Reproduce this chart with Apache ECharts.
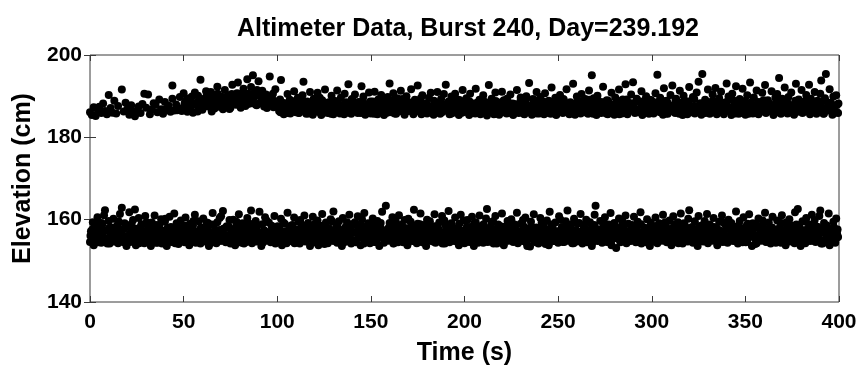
<!DOCTYPE html>
<html><head><meta charset="utf-8">
<script src="https://cdn.jsdelivr.net/npm/echarts@6/dist/echarts.min.js"></script>
<style>html,body{margin:0;padding:0;background:#fff}#c{width:862px;height:371px}</style>
</head><body><div id="c"></div>
<script>
// Flat lists of [time (s), elevation (cm)] pairs
const upper0to100 = [0,186.1,1,185.4,2,187.3,3,185.2,4,186.8,5,187.4,6,185.9,7,188.2,8,186.4,9,185.6,10,190.3,11,187.1,12,186.0,13,188.9,14,185.8,15,187.6,17,191.6,18,186.3,19,188.4,20,186.9,21,185.5,22,187.8,23,186.4,24,185.1,25,186.2,26,187.5,27,185.9,28,188.1,29,190.6,30,187.2,31,190.4,32,185.6,33,186.7,34,188.3,35,187.9,36,186.1,37,189.2,38,186.8,39,185.7,40,188.6,41,186.9,42,187.7,43,186.2,44,192.6,44,189.4,45,186.5,46,188.0,46.5,186.6,47,187.1,48,189.8,49,186.4,50,190.7,50.5,188.3,51,187.3,52,188.8,52,186.2,53,189.5,54,187.6,54.5,189.9,55,186.0,56,190.9,57,188.4,57.5,186.3,58,187.0,59,194.0,59,189.2,60,186.7,60.5,189.3,61,188.9,62,191.2,62.5,187.8,63,187.5,64,189.7,64.5,191.0,65,186.3,66,190.4,66.5,187.0,67,188.1,68,192.3,68.5,189.6,69,187.4,70,189.9,70.5,187.7,71,186.8,72,191.5,72.5,188.4,73,188.6,74,190.2,74.5,186.9,75,187.2,76,192.8,76.5,189.4,77,189.1,78,187.9,78.5,190.7,79,193.3,80,190.6,80.5,187.2,81,188.3,82,191.8,82.5,189.0,83,187.6,84,194.1,84.5,188.1,85,189.5,86,192.2,86.5,190.1,87,195.1,87,188.7,88,190.9,88.5,188.0,89,187.8,90,193.6,90.5,190.8,91,189.9,92,191.3,92.5,188.9,93,187.5,94,190.4,94.5,187.1,95,188.6,96,194.8,96.5,189.9,97,189.7,98,187.3,98.5,188.8,99,191.7,100,188.5];
const upperExtra50to100 = [50.2,187.4,51.7,189.1,53.2,186.8,54.7,188.2,56.2,187.9,57.7,190.1,59.2,187.2,60.7,188.4,62.2,190.0,63.7,188.6,65.2,189.3,66.7,187.9,68.2,190.6,69.7,188.8,71.2,189.6,72.7,187.5,74.2,188.9,75.7,190.5,77.2,188.2,78.7,189.3,80.2,188.9,81.7,190.2,83.2,189.1,84.7,190.6,86.2,188.3,87.7,189.8,89.2,191.5,90.2,188.2,91.7,190.3,93.2,189.2,94.7,188.7,96.2,187.8,97.7,190.6,99.2,188.1];
const upper100to200 = [101,186.4,101.5,189.2,102,193.9,103,187.0,103.5,185.6,104,188.3,105,186.9,105.5,190.5,106,187.4,107,185.8,107.5,188.9,108,186.5,109,191.2,109.5,187.7,110,186.1,111,189.6,111.5,185.9,112,187.9,113,186.6,113.5,190.2,114,193.5,115,187.1,115.5,185.7,116,188.7,117,186.3,117.5,191.0,118,187.6,119,185.5,119.5,189.4,120,186.8,121,188.1,121.5,190.8,122,186.2,123,187.5,123.5,185.4,124,189.0,125,186.7,125.5,191.6,126,187.8,127,185.9,127.5,188.5,128,186.4,129,190.1,129.5,187.2,130,185.6,131,188.8,131.5,186.9,132,191.4,133,187.3,133.5,185.8,134,189.7,135,186.5,135.5,187.9,136,190.6,137,186.0,137.5,188.2,138,192.9,139,187.0,139.5,185.7,140,189.3,141,186.6,141.5,190.4,142,187.7,143,185.9,143.5,188.6,144,186.2,145,192.4,145.5,187.4,146,189.9,147,185.5,147.5,188.0,148,186.8,149,190.9,149.5,187.1,150,185.8,151,188.7,151.5,186.3,152,191.1,153,187.6,153.5,185.6,154,189.2,155,186.9,155.5,190.3,156,187.2,157,185.4,157.5,188.4,158,186.5,159,189.8,159.5,187.8,160,193.1,161,186.1,161.5,188.9,162,190.7,163,187.3,163.5,185.7,164,189.5,165,186.7,165.5,187.9,166,191.3,167,186.2,167.5,188.3,168,185.5,169,190.0,169.5,187.0,170,188.6,171,186.4,171.5,191.7,172,187.5,173,185.9,173.5,189.1,174,186.8,175,192.6,175.5,187.7,176,188.8,177,185.6,177.5,190.2,178,186.6,179,188.0,179.5,187.1,180,185.8,181,189.6,181.5,186.3,182,190.8,183,187.4,183.5,185.5,184,188.5,185,186.9,185.5,191.0,186,187.6,187,185.7,187.5,189.3,188,186.1,189,190.5,189.5,187.9,190,192.8,191,186.4,191.5,188.7,192,185.6,193,189.9,193.5,187.2,194,186.0,195,190.6,195.5,188.1,196,186.7,197,185.4,197.5,189.0,198,187.3,199,191.5,199.5,186.5,200,188.4];
const upperExtra100to200 = [100.7,187.3,101.7,186.1,102.7,188.4,103.7,186.8,104.7,187.7,105.7,185.9,106.7,189.1,107.7,187.0,108.7,186.4,109.7,188.2,110.7,187.5,111.7,186.0,112.7,189.4,113.7,187.2,114.7,186.6,115.7,188.6,116.7,185.8,117.7,187.8,118.7,186.9,119.7,188.0,120.7,187.1,121.7,186.3,122.7,189.6,123.7,187.4,124.7,186.0,125.7,188.3,126.7,186.7,127.7,187.6,128.7,185.7,129.7,188.8,130.7,187.3,131.7,186.5,132.7,188.1,133.7,186.9,134.7,187.8,135.7,185.6,136.7,188.5,137.7,187.1,138.7,186.2,139.7,189.2,140.7,187.6,141.7,186.4,142.7,188.4,143.7,187.0,144.7,185.9,145.7,188.9,146.7,186.8,147.7,187.5,148.7,186.1,149.7,188.7,150.7,187.2,151.7,185.7,152.7,188.0,153.7,186.6,154.7,187.9,155.7,186.3,156.7,189.0,157.7,187.4,158.7,186.0,159.7,188.5,160.7,186.9,161.7,187.7,162.7,185.8,163.7,188.3,164.7,187.1,165.7,186.5,166.7,189.3,167.7,187.6,168.7,186.2,169.7,188.1,170.7,186.8,171.7,187.3,172.7,185.6,173.7,188.6,174.7,187.0,175.7,186.4,176.7,189.5,177.7,187.8,178.7,186.1,179.7,188.2,180.7,186.7,181.7,187.4,182.7,185.9,183.7,188.9,184.7,187.2,185.7,186.3,186.7,188.4,187.7,187.0,188.7,186.6,189.7,188.0,190.7,186.9,191.7,187.5,192.7,185.7,193.7,188.7,194.7,187.3,195.7,186.2,196.7,189.1,197.7,187.7,198.7,186.0,199.7,188.3];
const upper200to300 = [200.5,186.2,201,189.5,202,187.1,202.5,185.4,203,190.6,204,186.7,204.5,188.2,205,185.9,206,191.8,206.5,187.4,207,186.0,208,189.1,208.5,185.6,209,187.8,210,190.2,210.5,186.5,211,188.6,212,185.3,212.5,187.0,213,192.7,214,186.3,214.5,189.4,215,187.5,216,185.7,216.5,190.9,217,186.9,218,188.3,218.5,185.5,219,187.6,220,191.1,220.5,186.1,221,189.0,222,187.2,222.5,185.8,223,188.8,224,186.4,224.5,190.4,225,187.7,226,185.4,226.5,188.1,227,186.6,228,191.5,228.5,187.3,229,185.9,230,189.7,230.5,186.8,231,188.4,232,185.6,232.5,187.9,233,190.0,234,186.2,234.5,193.2,235,187.4,236,185.5,236.5,189.3,237,186.7,238,188.0,238.5,191.0,239,187.1,240,185.8,240.5,189.8,241,186.4,242,188.7,242.5,185.6,243,190.7,244,187.5,244.5,186.0,245,188.9,246,185.7,246.5,192.1,247,187.3,248,186.5,248.5,189.6,249,185.4,250,188.2,250.5,186.8,251,190.3,252,187.0,252.5,185.9,253,189.2,254,186.3,254.5,191.7,255,187.8,256,185.6,256.5,188.5,257,186.6,258,193.0,258.5,187.2,259,185.5,260,189.9,260.5,186.9,261,188.1,262,185.8,262.5,190.5,263,187.6,264,186.1,264.5,189.3,265,187.4,266,185.7,266.5,191.4,267,188.4,268,195.1,268.5,186.2,269,189.5,270,187.0,270.5,185.4,271,190.1,272,186.7,272.5,188.6,273,185.9,274,192.3,274.5,187.5,275,186.4,276,189.0,276.5,185.6,277,188.0,278,186.8,278.5,190.8,279,187.3,280,185.5,280.5,189.7,281,186.3,282,188.8,282.5,191.6,283,187.1,284,185.8,284.5,189.2,285,186.5,286,192.9,286.5,187.7,287,185.6,288,188.3,288.5,186.9,289,190.4,290,193.4,290.5,187.2,291,185.9,292,189.4,292.5,186.1,293,188.7,294,187.0,294.5,191.2,295,185.4,296,188.9,296.5,186.6,297,190.0,298,187.4,298.5,185.7,299,189.1,300,186.4];
const upperExtra200to300 = [200.7,187.6,201.7,186.2,202.7,188.7,203.7,186.9,204.7,187.3,205.7,185.8,206.7,188.4,207.7,187.1,208.7,186.5,209.7,189.2,210.7,187.7,211.7,186.0,212.7,188.1,213.7,186.8,214.7,187.5,215.7,185.6,216.7,188.8,217.7,187.2,218.7,186.4,219.7,188.5,220.7,187.0,221.7,186.7,222.7,189.4,223.7,187.4,224.7,185.9,225.7,188.2,226.7,186.6,227.7,187.8,228.7,186.1,229.7,188.6,230.7,187.3,231.7,185.7,232.7,188.9,233.7,186.9,234.7,187.6,235.7,186.3,236.7,188.0,237.7,187.1,238.7,185.8,239.7,189.0,240.7,187.5,241.7,186.4,242.7,188.3,243.7,186.7,244.7,187.9,245.7,186.0,246.7,188.6,247.7,187.2,248.7,185.6,249.7,188.8,250.7,187.0,251.7,186.5,252.7,189.3,253.7,187.7,254.7,186.2,255.7,188.1,256.7,186.8,257.7,187.4,258.7,185.9,259.7,188.4,260.7,187.1,261.7,186.6,262.7,188.7,263.7,186.9,264.7,187.6,265.7,186.1,266.7,189.1,267.7,187.3,268.7,185.7,269.7,188.2,270.7,186.7,271.7,187.8,272.7,186.3,273.7,188.5,274.7,187.0,275.7,185.8,276.7,188.9,277.7,187.5,278.7,186.4,279.7,188.0,280.7,186.8,281.7,187.2,282.7,185.6,283.7,188.6,284.7,187.4,285.7,186.0,286.7,189.2,287.7,187.6,288.7,186.5,289.7,188.3,290.7,187.1,291.7,186.2,292.7,188.8,293.7,186.6,294.7,187.7,295.7,185.9,296.7,188.1,297.7,187.3,298.7,186.7,299.7,189.0];
const upper300to400 = [300.5,188.5,301,185.8,302,190.7,302.5,187.1,303,195.2,304,186.2,304.5,189.6,305,187.5,306,185.5,306.5,191.9,307,186.8,308,188.9,308.5,185.7,309,187.3,310,190.3,310.5,186.4,311,192.6,312,187.8,312.5,185.9,313,189.4,314,186.5,314.5,188.1,315,191.3,316,187.0,316.5,185.4,317,190.1,318,186.9,318.5,188.7,319,185.6,320,192.2,320.5,187.4,321,186.1,322,189.8,322.5,187.6,323,185.8,324,190.9,324.5,186.7,325,193.5,326,188.3,326.5,185.5,327,195.4,328,187.2,328.5,189.1,329,186.3,330,191.6,330.5,187.9,331,185.7,332,188.6,332.5,190.4,333,186.6,334,192.0,334.5,187.3,335,185.9,336,189.5,336.5,186.2,337,191.1,338,187.7,338.5,185.6,339,188.4,340,193.1,340.5,186.8,341,189.9,342,187.1,342.5,185.4,343,190.6,344,186.4,344.5,188.8,345,192.4,346,187.5,346.5,185.7,347,189.3,348,186.0,348.5,191.8,349,187.8,350,185.5,350.5,188.2,351,190.2,352,186.6,352.5,193.3,353,187.2,354,185.8,354.5,189.7,355,186.9,356,191.4,356.5,187.6,357,185.6,358,188.5,358.5,186.3,359,190.8,360,187.0,360.5,192.7,361,185.9,362,189.0,362.5,186.7,363,188.0,364,191.2,364.5,187.4,365,185.4,366,189.6,366.5,186.1,367,190.5,368,194.4,368.5,187.9,369,185.7,370,188.7,370.5,186.5,371,192.1,372,187.3,372.5,185.8,373,189.8,374,186.8,374.5,190.9,375,187.6,376,185.5,376.5,188.3,377,193.0,378,186.2,378.5,189.2,379,187.1,380,191.5,380.5,185.9,381,188.6,382,186.6,382.5,190.3,383,187.8,384,192.8,384.5,185.6,385,189.4,386,186.9,386.5,187.5,387,191.0,388,185.7,388.5,188.9,389,186.4,390,190.6,390.5,193.8,391,187.2,392,185.8,392.5,189.5,393,195.4,394,186.7,394.5,188.1,395,191.7,396,187.4,396.5,185.5,397,189.9,398,186.3,398.5,190.2,399,187.9,399.5,185.9];
const upperExtra300to400 = [300.7,187.2,301.7,186.6,302.7,188.5,303.7,187.0,304.7,186.1,305.7,188.9,306.7,187.4,307.7,185.8,308.7,188.2,309.7,186.7,310.7,187.6,311.7,186.3,312.7,189.1,313.7,187.3,314.7,185.7,315.7,188.4,316.7,186.9,317.7,187.8,318.7,186.0,319.7,188.7,320.7,187.1,321.7,186.5,322.7,189.3,323.7,187.5,324.7,186.2,325.7,188.0,326.7,186.8,327.7,187.7,328.7,185.9,329.7,188.6,330.7,187.2,331.7,186.4,332.7,188.9,333.7,187.0,334.7,185.6,335.7,188.3,336.7,186.7,337.7,187.9,338.7,186.1,339.7,188.5,340.7,187.4,341.7,186.6,342.7,189.2,343.7,187.6,344.7,185.8,345.7,188.1,346.7,186.9,347.7,187.3,348.7,186.3,349.7,188.8,350.7,187.1,351.7,185.7,352.7,188.4,353.7,186.8,354.7,187.7,355.7,186.0,356.7,188.6,357.7,187.3,358.7,186.5,359.7,189.0,360.7,187.5,361.7,186.2,362.7,188.2,363.7,186.7,364.7,187.8,365.7,185.9,366.7,188.7,367.7,187.2,368.7,186.4,369.7,189.4,370.7,187.6,371.7,186.1,372.7,188.3,373.7,186.9,374.7,187.4,375.7,185.8,376.7,188.9,377.7,187.0,378.7,186.6,379.7,188.5,380.7,187.1,381.7,186.3,382.7,189.1,383.7,187.5,384.7,186.0,385.7,188.0,386.7,186.8,387.7,187.9,388.7,186.2,389.7,188.6,390.7,187.3,391.7,185.7,392.7,188.8,393.7,187.0,394.7,186.5,395.7,188.4,396.7,186.9,397.7,187.6,398.7,186.1,399.7,188.2];
const lower0to100 = [0,154.6,0.5,157.2,1,155.8,1.5,159.4,2,153.8,2.5,156.7,3,158.3,3.5,155.0,4,160.6,4.5,154.8,5,157.9,5.5,156.2,6,154.4,6.5,158.8,7,155.6,7.5,161.1,8,162.3,8.5,154.9,9,157.4,9.5,155.3,10,159.7,10.5,154.2,11,156.5,11.5,158.1,12,155.1,12.5,160.2,13,154.7,13.5,157.0,14,155.9,14.5,158.6,15,154.3,15.5,156.9,16,161.4,16.5,155.4,17,162.9,17.5,157.6,18,154.5,18.5,159.1,19,156.0,19.5,153.6,20,158.4,20.5,155.7,21,161.8,21.5,154.6,22,157.3,22.5,155.2,23,159.9,23.5,156.4,24,162.5,24.5,153.8,25,157.8,25.5,155.5,26,160.4,26.5,154.8,27,156.6,27.5,158.9,28,155.0,28.5,157.1,29,154.3,29.5,160.9,30,156.1,30.5,154.7,31,158.2,31.5,155.6,32,157.5,32.5,153.6,33,159.3,33.5,156.8,34,155.2,34.5,161.0,35,154.4,35.5,157.7,36,156.3,36.5,154.9,37,158.7,37.5,155.8,38,160.1,38.5,154.2,39,157.2,39.5,155.4,40,159.5,40.5,156.6,41,153.6,41.5,158.0,42,155.1,42.5,160.7,43,156.9,43.5,154.6,44,157.9,44.5,155.7,45,161.5,45.5,154.3,46,156.4,46.5,158.5,47,155.3,47.5,157.4,48,154.8,48.5,159.8,49,156.2,49.5,155.0,50,158.3,50.5,154.5,51,160.5,51.5,156.7,52,155.5,52.5,157.6,53,153.8,53.5,159.0,54,156.0,54.5,154.9,55,158.6,55.5,155.9,56,161.2,56.5,154.4,57,157.1,57.5,155.6,58,159.6,58.5,156.5,59,154.2,59.5,158.0,60,155.2,60.5,160.3,61,156.8,61.5,154.7,62,157.7,62.5,155.4,63,159.2,63.5,153.6,64,156.3,64.5,158.8,65,155.1,65.5,161.6,66,154.6,66.5,157.3,67,156.1,67.5,154.3,68,159.4,68.5,155.8,69,157.5,69.5,154.9,70,160.8,70.5,156.4,71,162.1,71.5,155.3,72,157.9,72.5,154.5,73,158.4,73.5,156.0,74,155.0,74.5,159.9,75,154.2,75.5,157.0,76,156.6,76.5,160.0,77,155.5,77.5,153.8,78,158.2,78.5,156.9,79,154.8,79.5,161.3,80,155.7,80.5,157.6,81,154.4,81.5,159.1,82,156.2,82.5,155.2,83,158.7,83.5,154.6,84,160.4,84.5,156.7,85,155.0,85.5,157.8,86,162.2,86.5,154.3,87,158.1,87.5,155.9,88,156.5,88.5,159.7,89,154.7,89.5,157.2,90,155.4,90.5,161.9,91,156.3,91.5,153.6,92,158.9,92.5,155.6,93,157.4,93.5,160.6,94,154.9,94.5,156.8,95,155.1,95.5,159.3,96,157.0,96.5,154.5,97,158.5,97.5,156.1,98,155.3,98.5,160.9,99,154.2,99.5,157.7];
const lowerExtra0to100 = [0.25,156.1,1.25,157.6,2.25,155.3,3.25,158.9,4.25,154.5,5.25,156.8,6.25,159.2,7.25,155.7,8.25,157.3,9.25,154.2,10.25,158.0,11.25,155.9,12.25,157.5,13.25,156.3,14.25,154.8,15.25,159.6,16.25,156.0,17.25,155.1,18.25,157.8,19.25,158.6,20.25,154.6,21.25,156.5,22.25,159.0,23.25,155.4,24.25,157.2,25.25,156.7,26.25,154.3,27.25,158.4,28.25,155.8,29.25,157.0,30.25,159.4,31.25,154.9,32.25,156.2,33.25,157.9,34.25,155.5,35.25,158.7,36.25,154.4,37.25,156.9,38.25,157.4,39.25,155.2,40.25,160.2,41.25,156.4,42.25,154.7,43.25,158.2,44.25,155.6,45.25,157.1,46.25,159.1,47.25,154.1,48.25,156.6,49.25,157.7,50.25,155.0,51.25,158.5,52.25,156.1,53.25,154.8,54.25,157.6,55.25,159.7,56.25,155.3,57.25,156.8,58.25,154.5,59.25,158.1,60.25,156.9,61.25,155.8,62.25,159.3,63.25,157.2,64.25,154.3,65.25,156.3,66.25,158.8,67.25,155.6,68.25,157.0,69.25,160.4,70.25,154.9,71.25,157.8,72.25,156.2,73.25,155.1,74.25,158.3,75.25,156.7,76.25,154.6,77.25,157.5,78.25,159.5,79.25,155.9,80.25,156.5,81.25,158.0,82.25,154.2,83.25,157.3,84.25,155.4,85.25,159.0,86.25,156.0,87.25,154.7,88.25,157.9,89.25,158.6,90.25,155.7,91.25,156.8,92.25,154.4,93.25,157.1,94.25,159.8,95.25,155.2,96.25,156.4,97.25,158.2,98.25,154.8,99.25,157.4];
const lower100to200 = [100,156.4,100.5,154.6,101,158.3,101.5,155.5,102,160.2,102.5,153.8,103,157.1,103.5,155.8,104,159.0,104.5,156.5,105,154.3,105.5,161.7,106,155.2,106.5,157.9,107,154.8,107.5,158.6,108,156.0,108.5,155.1,109,160.5,109.5,154.4,110,157.3,110.5,156.7,111,155.6,111.5,159.5,112,154.2,112.5,157.6,113,158.8,113.5,155.0,114,156.2,114.5,161.0,115,154.7,115.5,157.0,116,155.4,116.5,159.2,117,156.9,117.5,153.6,118,158.1,118.5,155.7,119,160.7,119.5,156.3,120,154.5,120.5,157.8,121,155.3,121.5,159.8,122,153.8,122.5,156.6,123,158.4,123.5,155.9,124,161.4,124.5,154.6,125,157.2,125.5,155.0,126,159.3,126.5,156.1,127,154.3,127.5,158.0,128,155.8,128.5,160.1,129,156.8,129.5,154.9,130,162.0,130.5,157.5,131,155.2,131.5,158.7,132,154.4,132.5,156.4,133,159.6,133.5,155.5,134,157.4,134.5,153.6,135,160.4,135.5,156.0,136,155.1,136.5,158.2,137,154.7,137.5,157.7,138,156.5,138.5,161.2,139,155.4,139.5,154.2,140,158.9,140.5,156.9,141,155.0,141.5,159.4,142,154.5,142.5,157.1,143,160.8,143.5,155.6,144,156.3,144.5,153.8,145,158.5,145.5,155.9,146,157.9,146.5,161.6,147,154.8,147.5,156.7,148,155.3,148.5,159.1,149,157.3,149.5,154.3,150,158.6,150.5,155.7,151,160.3,151.5,156.2,152,154.6,152.5,157.6,153,155.1,153.5,159.7,154,156.6,154.5,153.6,155,158.1,155.5,155.8,156,161.9,156.5,157.0,157,154.4,157.5,156.1,158,163.4,158.5,155.2,159,157.8,159.5,154.9,160,159.2,160.5,156.4,161,155.5,161.5,160.6,162,154.2,162.5,157.4,163,158.3,163.5,155.9,164,156.8,164.5,154.5,165,161.1,165.5,157.2,166,155.0,166.5,158.8,167,156.0,167.5,154.7,168,159.9,168.5,155.6,169,157.5,169.5,153.8,170,160.2,170.5,156.5,171,155.3,171.5,158.4,172,154.8,172.5,157.1,173,162.4,173.5,155.7,174,156.9,174.5,154.3,175,159.0,175.5,156.2,176,155.1,176.5,161.5,177,154.6,177.5,157.9,178,155.8,178.5,158.7,179,156.3,179.5,153.6,180,160.0,180.5,157.3,181,155.4,181.5,159.6,182,154.9,182.5,156.6,183,158.2,183.5,155.0,184,161.3,184.5,154.4,185,157.7,185.5,156.1,186,155.2,186.5,159.3,187,154.7,187.5,157.0,188,160.9,188.5,155.9,189,156.7,189.5,154.2,190,158.5,190.5,155.5,191,157.6,191.5,162.1,192,154.5,192.5,156.3,193,159.1,193.5,155.1,194,157.2,194.5,154.8,195,160.5,195.5,156.9,196,155.6,196.5,158.0,197,153.8,197.5,157.5,198,161.2,198.5,155.3,199,156.0,199.5,159.8];
const lowerExtra100to200 = [100.25,158.4,101.25,155.1,102.25,156.9,103.25,159.3,104.25,154.6,105.25,157.2,106.25,155.8,107.25,156.4,108.25,158.7,109.25,154.3,110.25,155.9,111.25,157.6,112.25,159.9,113.25,156.2,114.25,154.8,115.25,158.1,116.25,155.5,117.25,157.0,118.25,156.6,119.25,154.5,120.25,159.0,121.25,157.3,122.25,155.2,123.25,156.8,124.25,158.5,125.25,154.1,126.25,157.8,127.25,156.0,128.25,155.4,129.25,159.6,130.25,154.9,131.25,156.5,132.25,158.2,133.25,155.7,134.25,157.4,135.25,154.4,136.25,156.3,137.25,159.4,138.25,155.0,139.25,157.7,140.25,156.9,141.25,154.7,142.25,158.8,143.25,155.6,144.25,157.1,145.25,160.1,146.25,154.2,147.25,156.1,148.25,157.9,149.25,155.3,150.25,156.7,151.25,158.6,152.25,154.6,153.25,157.5,154.25,155.9,155.25,159.2,156.25,156.4,157.25,154.9,158.25,157.2,159.25,155.1,160.25,158.3,161.25,156.8,162.25,154.3,163.25,159.7,164.25,155.8,165.25,157.6,166.25,156.2,167.25,154.5,168.25,158.0,169.25,155.5,170.25,157.3,171.25,159.5,172.25,156.0,173.25,154.8,174.25,157.9,175.25,155.2,176.25,158.9,177.25,156.6,178.25,154.4,179.25,157.0,180.25,155.7,181.25,159.1,182.25,156.3,183.25,154.7,184.25,158.4,185.25,155.0,186.25,157.7,187.25,156.5,188.25,154.2,189.25,159.8,190.25,156.9,191.25,155.4,192.25,157.4,193.25,158.7,194.25,155.6,195.25,154.9,196.25,156.7,197.25,159.0,198.25,155.3,199.25,157.1];
const lower200to300 = [200,154.3,200.5,157.4,201,155.7,201.5,159.9,202,156.5,202.5,154.6,203,158.2,203.5,155.2,204,160.7,204.5,157.0,205,153.6,205.5,156.8,206,159.4,206.5,155.5,207,157.9,207.5,154.8,208,161.0,208.5,156.2,209,155.0,209.5,158.6,210,154.4,210.5,157.3,211,156.0,211.5,160.3,212,162.6,212.5,155.3,213,158.0,213.5,154.7,214,156.9,214.5,159.2,215,155.8,215.5,154.2,216,157.6,216.5,160.9,217,156.4,217.5,155.1,218,158.8,218.5,154.5,219,157.1,219.5,155.9,220,161.5,220.5,156.6,221,153.8,221.5,158.3,222,155.4,222.5,157.8,223,159.7,223.5,154.9,224,156.3,224.5,155.6,225,160.1,225.5,157.5,226,154.6,226.5,158.9,227,155.0,227.5,156.7,228,161.7,228.5,154.3,229,157.2,229.5,155.5,230,159.0,230.5,156.1,231,154.8,231.5,158.4,232,155.2,232.5,160.5,233,157.7,233.5,153.6,234,156.5,234.5,155.8,235,153.5,235.5,159.5,236,157.0,236.5,155.3,237,161.3,237.5,154.7,238,156.9,238.5,158.1,239,155.6,239.5,154.2,240,157.9,240.5,160.4,241,156.2,241.5,155.0,242,158.7,242.5,154.5,243,157.4,243.5,155.7,244,159.8,244.5,156.4,245,153.8,245.5,161.9,246,157.6,246.5,155.1,247,158.5,247.5,154.8,248,156.0,248.5,159.3,249,155.4,249.5,157.1,250,154.4,250.5,160.8,251,156.7,251.5,155.9,252,158.2,252.5,154.6,253,157.3,253.5,155.2,254,159.6,254.5,156.3,255,162.2,255.5,154.9,256,157.8,256.5,155.6,257,158.9,257.5,154.3,258,156.5,258.5,160.2,259,155.0,259.5,157.5,260,154.7,260.5,159.1,261,156.1,261.5,155.3,262,161.4,262.5,157.2,263,154.2,263.5,158.6,264,155.8,264.5,156.8,265,160.0,265.5,154.5,266,157.0,266.5,155.5,267,159.4,267.5,156.6,268,153.6,268.5,158.3,269,155.1,269.5,161.2,270,163.4,270.5,156.9,271,154.8,271.5,157.7,272,155.4,272.5,159.7,273,156.2,273.5,154.4,274,158.0,274.5,155.9,275,160.6,275.5,157.4,276,154.6,276.5,156.4,277,158.8,277.5,155.2,278,161.6,278.5,153.8,279,157.1,279.5,156.0,280,159.2,280.5,155.7,281,153.1,281.5,157.9,282,156.7,282.5,160.3,283,155.0,283.5,154.7,284,158.5,284.5,156.3,285,157.6,285.5,155.4,286,161.0,286.5,154.3,287,156.8,287.5,159.0,288,155.6,288.5,157.3,289,154.9,289.5,158.7,290,156.1,290.5,160.7,291,155.3,291.5,154.5,292,157.8,292.5,159.5,293,156.5,293.5,155.1,294,161.8,294.5,154.2,295,157.0,295.5,155.8,296,158.1,296.5,156.6,297,154.6,297.5,160.1,298,155.5,298.5,157.5,299,153.6,299.5,159.3];
const lowerExtra200to300 = [200.25,156.0,201.25,158.2,202.25,154.8,203.25,157.3,204.25,155.5,205.25,159.1,206.25,156.6,207.25,154.4,208.25,157.8,209.25,155.9,210.25,158.9,211.25,156.3,212.25,154.6,213.25,157.1,214.25,155.2,215.25,159.6,216.25,156.9,217.25,154.2,218.25,157.5,219.25,158.4,220.25,155.6,221.25,156.5,222.25,154.9,223.25,157.7,224.25,159.3,225.25,155.0,226.25,156.2,227.25,158.6,228.25,154.7,229.25,157.0,230.25,155.8,231.25,159.9,232.25,156.7,233.25,154.3,234.25,157.9,235.25,155.4,236.25,158.1,237.25,156.1,238.25,154.5,239.25,157.4,240.25,155.7,241.25,159.4,242.25,156.4,243.25,154.1,244.25,157.6,245.25,155.3,246.25,158.8,247.25,156.8,248.25,154.8,249.25,157.2,250.25,155.9,251.25,160.0,252.25,156.0,253.25,154.6,254.25,157.8,255.25,155.1,256.25,158.5,257.25,156.5,258.25,154.3,259.25,157.3,260.25,155.6,261.25,159.2,262.25,156.3,263.25,154.9,264.25,158.0,265.25,155.4,266.25,157.5,267.25,156.9,268.25,154.4,269.25,158.7,270.25,155.8,271.25,157.0,272.25,156.2,273.25,154.7,274.25,159.5,275.25,155.2,276.25,157.7,277.25,156.6,278.25,154.2,279.25,158.3,280.25,155.5,281.25,156.8,282.25,157.4,283.25,154.5,284.25,159.7,285.25,155.9,286.25,157.2,287.25,156.1,288.25,154.8,289.25,158.1,290.25,155.3,291.25,157.9,292.25,156.7,293.25,154.6,294.25,158.9,295.25,155.7,296.25,157.1,297.25,156.4,298.25,154.3,299.25,158.4];
const lower300to400 = [300,156.2,300.5,154.7,301,158.4,301.5,155.4,302,160.5,302.5,157.1,303,154.3,303.5,156.9,304,159.1,304.5,155.7,305,157.7,305.5,154.9,306,161.2,306.5,156.3,307,155.1,307.5,158.6,308,154.5,308.5,157.4,309,156.0,309.5,159.8,310,155.3,310.5,153.8,311,158.0,311.5,160.8,312,156.7,312.5,155.5,313,157.5,313.5,154.6,314,159.4,314.5,156.4,315,155.0,315.5,161.5,316,157.9,316.5,154.2,317,156.6,317.5,158.9,318,155.8,318.5,157.2,319,154.8,319.5,160.2,320,162.3,320.5,156.1,321,155.2,321.5,158.2,322,154.4,322.5,157.0,323,159.6,323.5,155.6,324,156.8,324.5,153.6,325,160.9,325.5,157.6,326,155.4,326.5,158.5,327,156.5,327.5,154.7,328,159.0,328.5,155.9,329,157.3,329.5,161.4,330,154.3,330.5,156.2,331,158.8,331.5,155.1,332,157.8,332.5,154.9,333,160.4,333.5,156.6,334,155.5,334.5,158.1,335,153.8,335.5,157.4,336,159.5,336.5,155.7,337,156.9,337.5,161.0,338,154.6,338.5,157.1,339,155.3,339.5,158.7,340,156.0,340.5,154.4,341,160.0,341.5,157.7,342,155.0,342.5,159.2,343,156.4,343.5,154.8,344,158.3,344.5,155.8,345,162.0,345.5,157.2,346,154.2,346.5,156.7,347,159.7,347.5,155.4,348,157.5,348.5,154.5,349,160.6,349.5,156.3,350,155.2,350.5,158.4,351,154.7,351.5,157.0,352,161.3,352.5,155.9,353,156.6,353.5,153.6,354,159.1,354.5,157.8,355,155.6,355.5,158.9,356,154.3,356.5,156.1,357,160.3,357.5,155.1,358,157.4,358.5,154.9,359,158.6,359.5,156.8,360,155.3,360.5,161.7,361,154.6,361.5,157.6,362,156.2,362.5,159.3,363,155.7,363.5,154.2,364,158.0,364.5,160.7,365,156.5,365.5,155.0,366,157.3,366.5,154.8,367,159.8,367.5,156.0,368,155.5,368.5,158.2,369,154.4,369.5,161.1,370,157.1,370.5,155.8,371,156.9,371.5,153.8,372,159.4,372.5,157.9,373,155.2,373.5,160.1,374,156.3,374.5,154.7,375,158.5,375.5,155.6,376,157.2,376.5,161.8,377,154.5,377.5,156.6,378,162.6,378.5,155.4,379,158.1,379.5,153.6,380,157.5,380.5,159.6,381,155.9,381.5,156.4,382,154.3,382.5,160.4,383,157.7,383.5,155.1,384,158.8,384.5,154.8,385,156.7,385.5,161.2,386,155.3,386.5,157.0,387,159.9,387.5,154.6,388,156.1,388.5,158.3,389,155.7,389.5,160.9,390,162.2,390.5,154.2,391,157.4,391.5,155.0,392,159.2,392.5,156.8,393,154.9,393.5,158.6,394,155.5,394.5,161.5,395,153.8,395.5,157.6,396,156.2,396.5,155.2,397,159.5,397.5,157.3,398,154.4,398.5,160.3,399,156.5,399.5,155.8];
const lowerExtra300to400 = [300.25,155.6,301.25,157.5,302.25,154.9,303.25,158.6,304.25,156.3,305.25,155.1,306.25,157.8,307.25,159.4,308.25,156.0,309.25,154.5,310.25,157.2,311.25,155.8,312.25,158.9,313.25,156.6,314.25,154.3,315.25,157.6,316.25,155.4,317.25,159.1,318.25,156.2,319.25,154.7,320.25,158.0,321.25,155.9,322.25,157.3,323.25,156.8,324.25,154.4,325.25,158.4,326.25,155.2,327.25,157.0,328.25,159.7,329.25,156.5,330.25,154.8,331.25,157.7,332.25,155.5,333.25,158.2,334.25,156.9,335.25,154.2,336.25,157.4,337.25,155.7,338.25,159.3,339.25,156.1,340.25,154.6,341.25,158.7,342.25,155.3,343.25,157.1,344.25,156.4,345.25,154.9,346.25,158.5,347.25,155.0,348.25,157.9,349.25,156.7,350.25,154.5,351.25,159.0,352.25,155.8,353.25,157.5,354.25,156.3,355.25,154.1,356.25,158.3,357.25,155.6,358.25,157.2,359.25,159.8,360.25,156.0,361.25,154.7,362.25,157.8,363.25,155.1,364.25,158.1,365.25,156.6,366.25,154.4,367.25,157.6,368.25,155.9,369.25,159.2,370.25,156.2,371.25,154.8,372.25,158.0,373.25,155.4,374.25,157.3,375.25,156.8,376.25,154.3,377.25,158.8,378.25,155.7,379.25,157.0,380.25,156.5,381.25,154.6,382.25,159.5,383.25,155.2,384.25,157.7,385.25,156.1,386.25,154.9,387.25,158.4,388.25,155.5,389.25,157.4,390.25,156.9,391.25,154.2,392.25,158.6,393.25,155.8,394.25,157.1,395.25,156.4,396.25,154.7,397.25,158.2,398.25,155.3,399.25,157.6];

const titleText = 'Altimeter Data, Burst 240, Day=239.192';
const xName = 'Time (s)';
const yName = 'Elevation (cm)';

function pairs(flat) { const out = []; for (let i = 0; i < flat.length; i += 2) out.push([flat[i], flat[i + 1]]); return out; }
const upperBand = pairs([].concat(upper0to100, upperExtra50to100, upper100to200, upperExtra100to200, upper200to300, upperExtra200to300, upper300to400, upperExtra300to400));
const lowerBand = pairs([].concat(lower0to100, lowerExtra0to100, lower100to200, lowerExtra100to200, lower200to300, lowerExtra200to300, lower300to400, lowerExtra300to400));

const FONT = 'Liberation Sans, Arial, Helvetica, sans-serif';
const AXC = '#3a3a3a';
const chart = echarts.init(document.getElementById('c'), null, { renderer: 'canvas' });
const tickStyle = { inside: true, length: 6, lineStyle: { color: AXC, width: 1 } };
const dotStyle = { color: '#000', opacity: 1, borderWidth: 0 };
chart.setOption({
  animation: false,
  backgroundColor: '#fff',
  title: { text: titleText, left: 463, textAlign: 'center', top: 12,
    textStyle: { fontFamily: FONT, fontWeight: 'bold', fontSize: 25, color: '#000' } },
  grid: { left: 90, right: 23, top: 55, bottom: 67, show: true, borderColor: AXC, borderWidth: 1, backgroundColor: 'transparent' },
  xAxis: [
    { type: 'value', min: 0, max: 400, interval: 50, position: 'bottom',
      axisLine: { show: false }, axisTick: tickStyle, splitLine: { show: false },
      axisLabel: { margin: 10, fontFamily: FONT, fontWeight: 'bold', fontSize: 21, color: '#000' },
      name: xName, nameLocation: 'middle', nameGap: 39,
      nameTextStyle: { fontFamily: FONT, fontWeight: 'bold', fontSize: 25, color: '#000' } },
    { type: 'value', min: 0, max: 400, interval: 50, position: 'top',
      axisLine: { show: false }, axisTick: tickStyle, splitLine: { show: false }, axisLabel: { show: false } }
  ],
  yAxis: [
    { type: 'value', min: 140, max: 200, interval: 20, position: 'left',
      axisLine: { show: false }, axisTick: tickStyle, splitLine: { show: false },
      axisLabel: { margin: 8, fontFamily: FONT, fontWeight: 'bold', fontSize: 21, color: '#000' },
      name: yName, nameLocation: 'middle', nameGap: 54, nameRotate: 90,
      nameTextStyle: { fontFamily: FONT, fontWeight: 'bold', fontSize: 25, color: '#000' } },
    { type: 'value', min: 140, max: 200, interval: 20, position: 'right',
      axisLine: { show: false }, axisTick: tickStyle, splitLine: { show: false }, axisLabel: { show: false } }
  ],
  series: [
    { type: 'scatter', name: 'upper', data: upperBand, symbol: 'circle', symbolSize: 8,
      large: false, itemStyle: dotStyle, emphasis: { disabled: true }, clip: false },
    { type: 'scatter', name: 'lower', data: lowerBand, symbol: 'circle', symbolSize: 8,
      large: false, itemStyle: dotStyle, emphasis: { disabled: true }, clip: false }
  ]
});
</script>
</body></html>
